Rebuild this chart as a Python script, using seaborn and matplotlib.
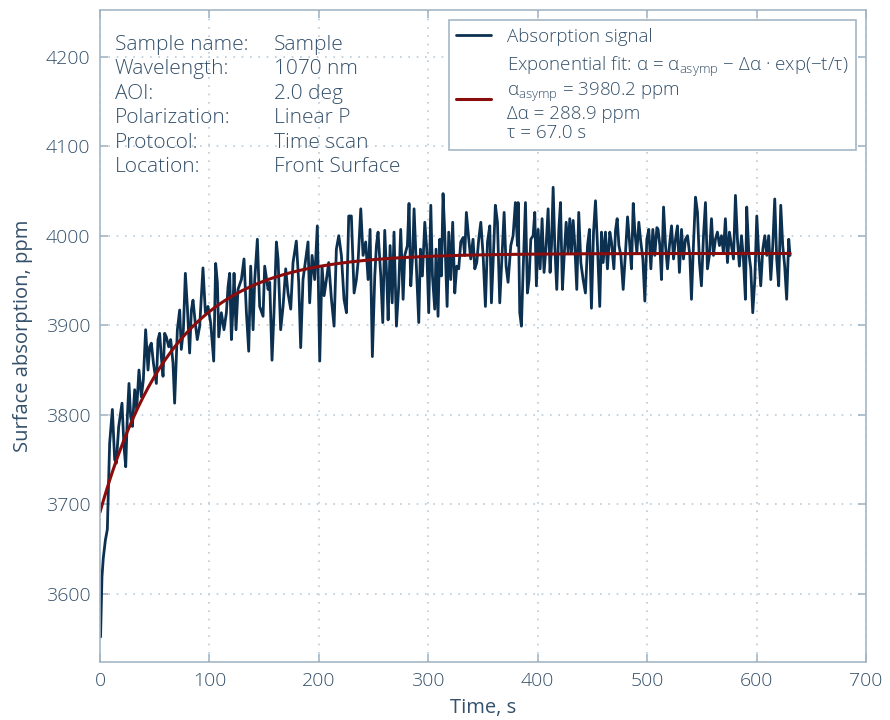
import numpy as np
import pandas as pd
import seaborn as sns
import matplotlib
matplotlib.use("Agg")
import matplotlib.pyplot as plt

#%% data

time_s = [
    0.5, 1.8, 3.0, 4.9, 6.7, 8.8, 11.3, 13.4, 14.9, 17.1, 20.1, 21.9, 23.5, 25.0,
    26.5, 28.0, 29.6, 31.7, 33.5, 35.6, 37.8, 39.6, 41.7, 43.9, 45.4, 46.9, 48.8,
    51.5, 53.0, 54.5, 56.0, 57.6, 59.1, 60.6, 62.8, 64.6, 66.7, 68.2, 70.7, 72.8,
    74.3, 76.2, 78.0, 79.8, 81.9, 83.5, 85.0, 87.1, 88.9, 91.1, 94.1, 96.3, 98.7,
    101.2, 103.9, 105.7, 107.3, 108.5, 110.9, 113.3, 115.5, 117.0, 118.5, 120.1,
    121.3, 122.5, 124.3,
    126.1, 129.2, 131.6, 133.8, 135.9, 137.7, 139.9, 141.4, 143.8, 145.9, 149.0,
    150.5, 153.6, 155.1, 157.2, 159.0, 161.2, 162.7, 165.1, 167.3, 169.7, 171.8,
    174.3, 176.4, 179.4, 181.6, 183.4, 185.5, 188.0, 190.1, 191.6, 193.8, 196.2,
    198.6, 200.8, 202.9, 204.8, 206.9, 209.0, 211.5, 213.9, 216.0, 218.2, 220.6,
    223.0, 225.2, 227.3, 229.7, 232.2, 234.3, 235.8, 238.3, 240.4, 242.8, 245.0,
    246.8, 248.9, 251.1, 252.6,
    254.1, 256.6, 258.4, 260.2, 262.1, 263.3, 265.1, 267.0, 268.7, 270.9, 273.0,
    274.8, 277.0, 278.5, 280.9, 282.4, 284.0, 285.8, 287.0, 289.2, 291.3, 292.8,
    294.6, 296.8, 298.6, 300.4, 302.3, 303.8, 305.9, 307.1, 308.9, 310.5, 312.0,
    313.5, 315.0, 317.2, 318.7, 320.5, 322.3, 324.2, 326.0, 327.8, 329.7, 331.8,
    333.3, 334.8, 337.0, 338.8, 340.9, 342.5, 344.3, 346.1, 348.0, 350.1, 352.2,
    354.1, 356.2, 357.7, 359.5, 361.3, 363.2, 365.3, 367.4, 369.3, 371.1, 372.9,
    375.4, 377.5, 379.6, 381.5,
    382.1, 383.6, 385.1, 386.6, 388.8, 390.6, 392.1, 393.7, 395.8, 397.3, 398.8,
    400.4, 402.2, 404.0, 405.8, 407.7, 409.5, 411.3, 412.6, 414.1, 415.6, 417.4,
    419.3, 420.8, 422.6, 424.2, 426.0, 427.8, 429.3, 430.8, 432.4, 433.9, 435.7,
    437.5, 439.4, 441.5, 443.6, 445.5, 447.3, 449.1, 451.0, 452.8, 454.6, 456.7,
    458.3, 459.8, 461.9, 463.7, 465.9, 467.4, 469.6, 471.1, 472.6, 474.2, 476.0,
    478.1, 480.2, 482.1, 483.9, 485.7, 487.3, 488.8, 490.6, 492.4, 494.2, 496.1,
    497.9, 499.7, 501.5, 503.4, 505.2, 507.0, 508.9,
    510.0, 511.6, 513.1, 515.0, 516.8, 518.6, 520.4, 522.3, 524.1, 525.9, 527.7,
    529.5, 531.4, 533.2, 535.0, 536.9, 539.0, 540.5, 542.3, 544.2, 546.0, 547.8,
    549.6, 551.5, 553.3, 555.1, 556.9, 558.8, 560.6, 562.4, 564.2, 566.1, 567.9,
    569.7, 571.5, 573.4, 575.2, 577.0, 578.9, 580.7, 582.5, 584.3, 586.2, 588.0,
    589.8, 591.0, 592.9, 594.7, 596.5, 598.4, 600.2, 602.0, 603.8, 605.7, 607.5,
    609.3, 611.1, 613.0, 614.8, 616.6, 618.4, 620.2, 622.1, 623.9, 625.7, 627.5,
    629.4, 630.6,
]

absorption_ppm = [
    3552, 3619, 3640, 3660, 3672, 3768, 3806, 3750, 3746, 3787, 3813, 3765, 3742, 3798,
    3835, 3798, 3787, 3828, 3806, 3850, 3820, 3839, 3895, 3850, 3876, 3880, 3858,
    3835, 3884, 3891, 3865, 3843, 3891, 3887, 3876, 3884, 3858, 3813, 3895, 3917,
    3873, 3895, 3958, 3921, 3869, 3917, 3928, 3902, 3884, 3899, 3964, 3914, 3921,
    3902, 3860, 3969, 3947, 3887, 3914, 3895, 3914, 3943, 3958, 3884,
    3914, 3958, 3895,
    3940, 3951, 3974, 3914, 3871, 3966, 3895, 3951, 3996, 3921, 3910,
    3966, 3940, 3948, 3861, 3914, 3993, 3974, 3895, 3921, 3963, 3936,
    3918, 3970, 3994, 3948, 3875, 3951, 3974, 3993, 3925, 3978, 3951,
    4011, 3860, 3966, 3933, 3951, 3970, 3929, 3899, 3985, 4000, 3978,
    3929, 3914, 4022, 4022, 3936, 3951, 3970, 4030, 3978, 3993, 3951,
    4007, 3865, 3955, 3989,
    4004, 3955, 3903, 4006, 3951, 3906, 3989, 3925, 4004, 3899, 3944,
    4007, 3929, 3978, 3989, 4036, 3944, 3981, 4030, 3963, 3903, 3985,
    3955, 4015, 3985, 3914, 4034, 3955, 3918, 3985, 3910, 3996, 3955,
    4047, 4004, 3921, 4004, 3951, 4015, 3936, 3966, 3963, 3993, 3998,
    3978, 4026, 3996, 3974, 3996, 3963, 3970, 3996, 4015, 3978, 3921,
    3993, 4011, 3925, 3978, 4034, 4015, 3925, 3978, 4026, 3966, 3948,
    3989, 4000, 4037, 3989,
    4037, 3914, 3899, 3959, 4037, 3936, 3951, 3996, 4000, 4026, 3944,
    4007, 3963, 4019, 3959, 3989, 4030, 3959, 3989, 4054, 3989, 3940,
    4007, 4037, 3940, 3978, 4015, 3981, 4019, 3981, 4017, 3989, 3940,
    4026, 3970, 3951, 3936, 3989, 4007, 3919, 4004, 4039, 3989, 3921,
    4004, 3970, 4004, 3963, 4004, 3993, 3963, 4006, 4019, 3989, 3978,
    3940, 3981, 4021, 3993, 3963, 4036, 4004, 3981, 4015, 3993, 3974,
    3927, 3996, 4007, 3963, 4007, 3978, 4009,
    4007, 3989, 3951, 4032, 3989, 3963, 3989, 4011, 3974, 3996, 4011,
    3959, 4007, 3974, 3996, 4000, 3978, 3929, 3989, 4043, 4026, 3970,
    3944, 4000, 4037, 3963, 3978, 4019, 3978, 3996, 4004, 3989, 4000,
    3981, 4019, 3970, 4004, 3989, 3974, 4045, 3996, 3966, 4000, 3974,
    3929, 4032, 3981, 3963, 3914, 3951, 4022, 3978, 3944, 3985, 4000,
    3978, 4000, 3951, 3989, 4041, 3974, 3944, 4034, 3989, 3966, 3929,
    3996, 3978,
]

# fit parameters as printed in the legend
alpha_asymp = 3980.2
delta_alpha = 288.9
tau = 67.0

info_keys = ["Sample name:", "Wavelength:", "AOI:", "Polarization:", "Protocol:", "Location:"]
info_vals = ["Sample", "1070 nm", "2.0 deg", "Linear P", "Time scan", "Front Surface"]

#%% style

sns.set_theme(style="ticks")
plt.rcParams["font.family"] = ["Open Sans", "DejaVu Sans"]
plt.rcParams["font.weight"] = "light"
plt.rcParams["mathtext.fontset"] = "custom"
plt.rcParams["mathtext.rm"] = "Open Sans:light"
plt.rcParams["mathtext.it"] = "Open Sans:light"

text_col = "#34506a"
spine_col = "#a3b6c6"
grid_col = "#b9cbd8"
signal_col = "#0c3050"
fit_col = "#8a0c0c"

df = pd.DataFrame({"t": time_s, "a": absorption_ppm})
t_fit = np.linspace(0, time_s[-1], 400)
fit_df = pd.DataFrame({"t": t_fit,
                       "a": alpha_asymp - delta_alpha * np.exp(-t_fit / tau)})

fig = plt.figure(figsize=(8.9, 7.2), dpi=100)
ax = fig.add_axes([100 / 890, 58 / 720, 766 / 890, 652 / 720])

sns.lineplot(data=df, x="t", y="a", ax=ax, color=signal_col, lw=2.0,
             estimator=None, sort=False, label="Absorption signal")
fit_label = ("Exponential fit: α = α$_{\\mathrm{asymp}}$ − Δα · exp(−t/τ)\n"
             f"α$_{{\\mathrm{{asymp}}}}$ = {alpha_asymp:.1f} ppm\n"
             f"Δα = {delta_alpha:.1f} ppm\n"
             f"τ = {tau:.1f} s")
sns.lineplot(data=fit_df, x="t", y="a", ax=ax, color=fit_col, lw=2.2,
             estimator=None, label=fit_label)

ax.set_xlim(0, 700)
ax.set_ylim(3524, 4252)
ax.set_xticks(range(0, 701, 100))
ax.set_yticks(range(3600, 4201, 100))
ax.grid(True, ls=(0, (1, 4)), color=grid_col, lw=1.2)

for s in ax.spines.values():
    s.set_color(spine_col)
    s.set_linewidth(1.2)
ax.tick_params(direction="in", top=True, right=True, length=6, width=1.2,
               color=spine_col, labelcolor=text_col, labelsize=14, pad=7)

ax.set_xlabel("Time, s", color=text_col, fontsize=14.5, labelpad=6)
ax.set_ylabel("Surface absorption, ppm", color=text_col, fontsize=14.5, labelpad=9)

leg = ax.legend(loc="upper right", fontsize=13.5, frameon=True, fancybox=False,
                framealpha=1, edgecolor=spine_col, handlelength=1.85,
                handletextpad=0.85, borderaxespad=0.55, labelspacing=0.5)
leg.get_frame().set_linewidth(1.2)
for txt in leg.get_texts():
    txt.set_color(text_col)
    txt.set_linespacing(1.08)

ax.text(0.019, 0.962, "\n".join(info_keys), transform=ax.transAxes, va="top",
        ha="left", fontsize=15, color=text_col, linespacing=1.3)
ax.text(0.227, 0.962, "\n".join(info_vals), transform=ax.transAxes, va="top",
        ha="left", fontsize=15, color=text_col, linespacing=1.3)

fig.savefig("out.png", dpi=100)
